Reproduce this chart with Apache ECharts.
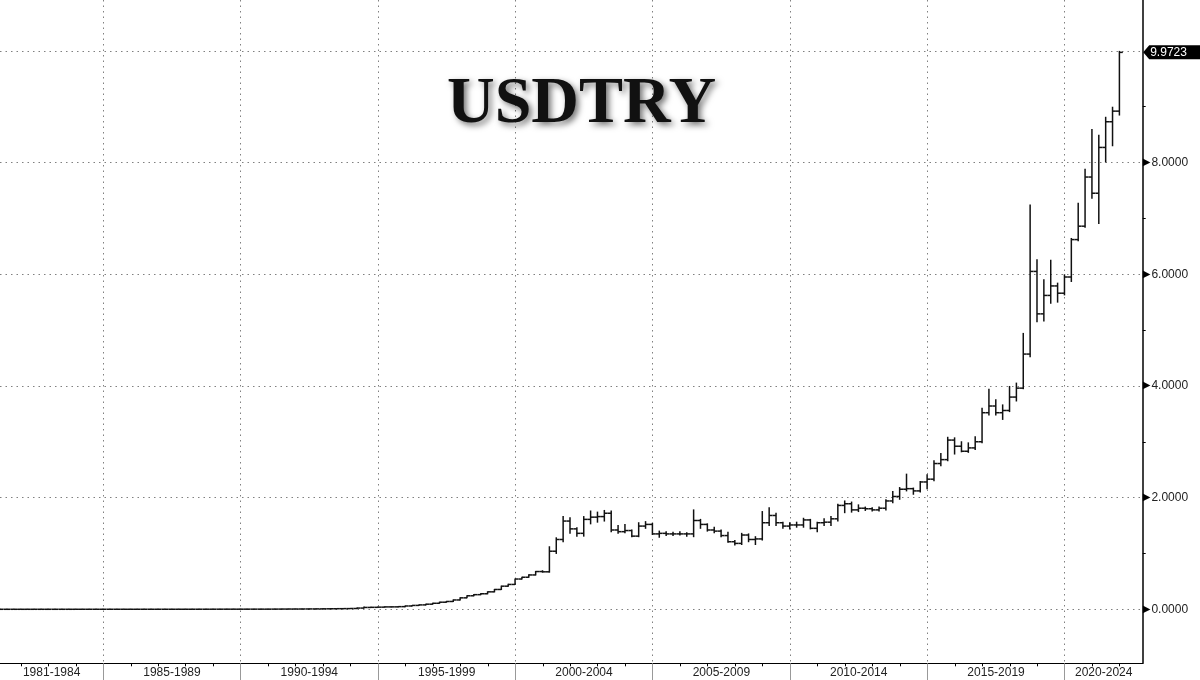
<!DOCTYPE html>
<html><head><meta charset="utf-8">
<script src="https://cdn.jsdelivr.net/npm/echarts@6/dist/echarts.min.js"></script>
<style>html,body{margin:0;padding:0;background:#fff}#c{width:1200px;height:680px}</style>
</head><body><div id="c"></div>
<script>
// ---- data (quarterly OHLC, USD/TRY, 1981Q1 .. 2021Q4) ----
const firstYear = 1981, lastYear = 2021;
const periodStarts = [1981, 1985, 1990, 1995, 2000, 2005, 2010, 2015, 2020];
const periodLabels = ['1981-1984','1985-1989','1990-1994','1995-1999','2000-2004','2005-2009','2010-2014','2015-2019','2020-2024'];
const majorTicks = [0, 2, 4, 6, 8, 10];
const lastLabel = '9.9723';

const opens = [
0.000095,0.00010,0.00011,0.00012,
0.00013,0.00015,0.00016,0.00017,
0.00019,0.00020,0.00022,0.00025,
0.00028,0.00032,0.00037,0.00042,
0.00044,0.00048,0.00052,0.00055,
0.00058,0.00062,0.00066,0.00069,
0.00076,0.00079,0.00084,0.00093,
0.00102,0.00118,0.00132,0.00161,
0.00182,0.00197,0.00211,0.00222,
0.00232,0.00245,0.00262,0.00273,
0.00290,0.00342,0.00416,0.00480,
0.00508,0.00580,0.00660,0.00720,
0.00855,0.00940,0.01080,0.01230,
0.01440,0.02190,0.03320,0.03530,
0.03850,0.04280,0.04330,0.04750,
0.05940,0.06950,0.07870,0.09150,
0.10770,0.12700,0.14000,0.16700,
0.20500,0.24200,0.26200,0.27800,
0.31250,0.35500,0.41400,0.44500,
0.54200,0.57400,0.61500,0.67600,
0.671,1.04,1.25,1.58,
1.44,1.36,1.61,1.65,
1.66,1.72,1.42,1.39,
1.41,1.31,1.49,1.52,
1.35,1.36,1.35,1.35,
1.35,1.35,1.59,1.52,
1.42,1.40,1.32,1.21,
1.18,1.33,1.25,1.26,
1.55,1.68,1.55,1.49,
1.51,1.51,1.60,1.45,
1.55,1.56,1.62,1.86,
1.89,1.78,1.81,1.80,
1.78,1.81,1.94,2.02,
2.15,2.16,2.12,2.28,
2.33,2.61,2.68,3.03,
2.92,2.83,2.89,3.00,
3.52,3.64,3.52,3.56,
3.80,3.96,4.57,6.05,
5.29,5.62,5.79,5.66,
5.95,6.62,6.86,7.74,
7.45,8.27,8.73,8.92];

const highs = [
0.00010,0.00011,0.00012,0.00013,
0.00015,0.00016,0.00017,0.00019,
0.00020,0.00022,0.00025,0.00028,
0.00032,0.00037,0.00042,0.00045,
0.00048,0.00052,0.00056,0.00059,
0.00063,0.00067,0.00070,0.00076,
0.00080,0.00085,0.00094,0.00103,
0.00119,0.00134,0.00163,0.00183,
0.00198,0.00212,0.00224,0.00233,
0.00246,0.00263,0.00275,0.00292,
0.00345,0.00418,0.00485,0.00512,
0.00585,0.00665,0.00725,0.00860,
0.00945,0.01085,0.01235,0.01445,
0.02250,0.04000,0.03700,0.03900,
0.04500,0.04500,0.04800,0.05950,
0.06960,0.07880,0.09160,0.10780,
0.12710,0.14100,0.16750,0.20550,
0.24250,0.26300,0.28000,0.31300,
0.35600,0.41500,0.45000,0.54300,
0.57500,0.62000,0.67800,0.69000,
1.12,1.28,1.66,1.64,
1.46,1.66,1.76,1.74,
1.77,1.76,1.50,1.52,
1.42,1.55,1.57,1.54,
1.40,1.39,1.38,1.39,
1.37,1.78,1.61,1.53,
1.47,1.42,1.38,1.23,
1.36,1.35,1.30,1.75,
1.82,1.72,1.56,1.55,
1.56,1.63,1.61,1.56,
1.62,1.66,1.88,1.94,
1.92,1.87,1.83,1.82,
1.83,1.96,2.11,2.18,
2.42,2.17,2.29,2.41,
2.66,2.79,3.08,3.07,
3.00,2.98,3.09,3.60,
3.94,3.75,3.66,3.99,
4.05,4.94,7.24,6.26,
5.90,6.25,5.84,5.99,
6.64,7.27,7.88,8.59,
8.49,8.81,8.99,9.99];

const lows = [
0.000095,0.00010,0.00011,0.00012,
0.00013,0.00015,0.00016,0.00017,
0.00019,0.00020,0.00022,0.00025,
0.00028,0.00032,0.00037,0.00042,
0.00044,0.00048,0.00052,0.00055,
0.00058,0.00062,0.00066,0.00069,
0.00076,0.00079,0.00084,0.00093,
0.00102,0.00118,0.00132,0.00161,
0.00182,0.00197,0.00211,0.00222,
0.00232,0.00245,0.00262,0.00273,
0.00290,0.00342,0.00416,0.00480,
0.00508,0.00580,0.00660,0.00720,
0.00855,0.00940,0.01080,0.01230,
0.01440,0.02150,0.03250,0.03500,
0.03850,0.04200,0.04300,0.04700,
0.05940,0.06950,0.07870,0.09150,
0.10770,0.12700,0.14000,0.16700,
0.20500,0.24200,0.26200,0.27800,
0.31250,0.35500,0.41400,0.44500,
0.54200,0.57400,0.61500,0.66500,
0.665,1.00,1.21,1.36,
1.31,1.31,1.53,1.56,
1.58,1.39,1.36,1.37,
1.30,1.30,1.45,1.34,
1.29,1.32,1.32,1.33,
1.31,1.30,1.45,1.40,
1.37,1.30,1.20,1.15,
1.16,1.21,1.16,1.24,
1.50,1.50,1.45,1.44,
1.47,1.47,1.44,1.39,
1.50,1.50,1.58,1.73,
1.74,1.75,1.77,1.76,
1.76,1.78,1.91,1.97,
2.12,2.06,2.10,2.16,
2.30,2.57,2.66,2.78,
2.82,2.81,2.86,2.98,
3.48,3.48,3.40,3.54,
3.73,3.95,4.52,5.15,
5.16,5.48,5.50,5.63,
5.87,6.60,6.84,7.36,
6.91,8.01,8.30,8.85];

const closes = [
0.00010,0.00011,0.00012,0.00013,
0.00015,0.00016,0.00017,0.00019,
0.00020,0.00022,0.00025,0.00028,
0.00032,0.00037,0.00042,0.00044,
0.00048,0.00052,0.00055,0.00058,
0.00062,0.00066,0.00069,0.00076,
0.00079,0.00084,0.00093,0.00102,
0.00118,0.00132,0.00161,0.00182,
0.00197,0.00211,0.00222,0.00232,
0.00245,0.00262,0.00273,0.00290,
0.00342,0.00416,0.00480,0.00508,
0.00580,0.00660,0.00720,0.00855,
0.00940,0.01080,0.01230,0.01440,
0.02190,0.03320,0.03530,0.03850,
0.04280,0.04330,0.04750,0.05940,
0.06950,0.07870,0.09150,0.10770,
0.12700,0.14000,0.16700,0.20500,
0.24200,0.26200,0.27800,0.31250,
0.35500,0.41400,0.44500,0.54200,
0.57400,0.61500,0.67600,0.67100,
1.04,1.25,1.58,1.44,
1.36,1.61,1.65,1.66,
1.72,1.42,1.39,1.41,
1.31,1.49,1.52,1.35,
1.36,1.35,1.35,1.35,
1.35,1.59,1.52,1.42,
1.40,1.32,1.21,1.18,
1.33,1.25,1.26,1.55,
1.68,1.55,1.49,1.51,
1.51,1.60,1.45,1.55,
1.56,1.62,1.86,1.89,
1.78,1.81,1.80,1.78,
1.81,1.94,2.02,2.15,
2.16,2.12,2.28,2.33,
2.61,2.68,3.03,2.92,
2.83,2.89,3.00,3.52,
3.64,3.52,3.56,3.80,
3.96,4.57,6.05,5.29,
5.62,5.79,5.66,5.95,
6.62,6.86,7.74,7.45,
8.27,8.73,8.92,9.9723];

// ---- axis extents ----
const XMIN = 1981.24, XMAX = 2022.838;
const YMIN = -0.967, YMAX = 10.91;

// quarter-end dates as decimal years
const quarterDates = [];
for (let y = firstYear; y <= lastYear; y++) for (let q = 1; q <= 4; q++) quarterDates.push(y + q / 4 - 0.01);
const ohlc = quarterDates.map((x, i) => [x, opens[i], highs[i], lows[i], closes[i]]);

const yearTicks = [];
for (let y = firstYear + 1; y <= Math.floor(XMAX); y++) yearTicks.push(y);
// label centre = middle of the visible part of each period
const labelCenters = periodStarts.map((s, i) => {
  const end = i + 1 < periodStarts.length ? periodStarts[i + 1] : XMAX;
  return (Math.max(s, XMIN) + Math.min(end, XMAX)) / 2;
});
const periodLabelData = labelCenters.map((c, i) => [c, YMIN, i]);
const boundaryTicks = periodStarts.slice(1);
const minorTicks = majorTicks.slice(0, -1).map(v => v + 1);

const FONT = 'Liberation Sans';
const chart = echarts.init(document.getElementById('c'), null, {renderer: 'canvas'});

chart.setOption({
  animation: false,
  backgroundColor: '#fff',
  title: {
    text: 'USDTRY', left: 447, top: 72, padding: 0,
    textStyle: {
      fontFamily: 'Liberation Serif', fontWeight: 'bold', fontSize: 66, color: '#111',
      textShadowColor: 'rgba(0,0,0,0.55)', textShadowBlur: 6, textShadowOffsetX: 3, textShadowOffsetY: 3
    }
  },
  grid: {left: 0, right: 57.3, top: 0, bottom: 16.7, containLabel: false},
  xAxis: [
    {
      type: 'value', min: XMIN, max: XMAX, position: 'bottom',
      axisLine: {show: true, onZero: false, lineStyle: {color: '#000', width: 1.2}},
      axisTick: {show: true, customValues: yearTicks, length: 3, lineStyle: {color: '#000'}},
      axisLabel: {show: false},
      splitLine: {show: false}
    },
    {
      type: 'value', min: XMIN, max: XMAX, position: 'bottom', minInterval: 5, maxInterval: 5,
      axisLine: {show: false, onZero: false},
      axisTick: {show: true, customValues: boundaryTicks, length: 18, lineStyle: {color: '#999', width: 1}},
      axisLabel: {show: false},
      splitLine: {show: true, lineStyle: {color: '#808080', width: 1, type: [1.5, 4]}}
    }
  ],
  yAxis: [
    {
      type: 'value', position: 'right', min: YMIN, max: YMAX, minInterval: 2, maxInterval: 2,
      axisLine: {show: true, onZero: false, lineStyle: {color: '#000', width: 1.5}},
      axisTick: {show: false, customValues: majorTicks},
      axisLabel: {
        customValues: majorTicks, showMinLabel: true, showMaxLabel: true, margin: 0,
        formatter: function (v) {
          if (v >= 9.99 || v < -0.01) return '';
          return '{t|\u25B6}{v|' + v.toFixed(4) + '}';
        },
        rich: {
          t: {fontSize: 10, color: '#000', fontFamily: 'DejaVu Sans', padding: [0, 1, 0, 0]},
          v: {fontSize: 12, color: '#222', fontFamily: FONT}
        }
      },
      splitLine: {show: true, lineStyle: {color: '#808080', width: 1, type: [1.5, 4]}}
    },
    {
      type: 'value', position: 'right', min: YMIN, max: YMAX, minInterval: 1, maxInterval: 1,
      axisLine: {show: false, onZero: false},
      axisTick: {show: true, customValues: minorTicks, length: 3, lineStyle: {color: '#000'}},
      axisLabel: {show: false},
      splitLine: {show: false}
    }
  ],
  series: [
    {
      type: 'custom', name: 'USDTRY', xAxisIndex: 0, yAxisIndex: 0, z: 5,
      data: ohlc,
      encode: {x: 0, y: [1, 2, 3, 4]},
      renderItem: function (params, api) {
        const x = api.value(0);
        const o = api.coord([x, api.value(1)]);
        const h = api.coord([x, api.value(2)]);
        const l = api.coord([x, api.value(3)]);
        const c = api.coord([x, api.value(4)]);
        const tk = 3.4;
        const st = {stroke: '#111', lineWidth: 1.5};
        return {
          type: 'group',
          children: [
            {type: 'line', shape: {x1: h[0], y1: h[1] - 0.5, x2: l[0], y2: l[1] + 0.5}, style: st},
            {type: 'line', shape: {x1: o[0] - tk, y1: o[1], x2: o[0], y2: o[1]}, style: st},
            {type: 'line', shape: {x1: c[0], y1: c[1], x2: c[0] + tk, y2: c[1]}, style: st}
          ]
        };
      }
    },
    {
      type: 'custom', name: 'periods', xAxisIndex: 0, yAxisIndex: 0, z: 6, clip: false, silent: true,
      data: periodLabelData,
      renderItem: function (params, api) {
        const p = api.coord([api.value(0), api.value(1)]);
        return {
          type: 'text', x: p[0], y: p[1] + 9.5,
          style: {text: periodLabels[api.value(2)], fill: '#222', fontSize: 12, fontFamily: FONT, align: 'center', verticalAlign: 'middle'}
        };
      }
    },
    {
      type: 'custom', name: 'last', xAxisIndex: 0, yAxisIndex: 0, z: 10, clip: false,
      data: [[XMAX, closes[closes.length - 1]]],
      renderItem: function (params, api) {
        const p = api.coord([api.value(0), api.value(1)]);
        const x = p[0] + 0.5, y = p[1];
        return {
          type: 'group',
          children: [
            {type: 'polygon', shape: {points: [[x, y], [x + 6, y - 7], [x + 60, y - 7], [x + 60, y + 7], [x + 6, y + 7]]},
             style: {fill: '#000'}},
            {type: 'text', x: x + 7, y: y, style: {text: lastLabel, fill: '#fff', fontSize: 12, fontFamily: FONT, verticalAlign: 'middle', align: 'left'}}
          ]
        };
      }
    }
  ]
});
</script>
</body></html>
